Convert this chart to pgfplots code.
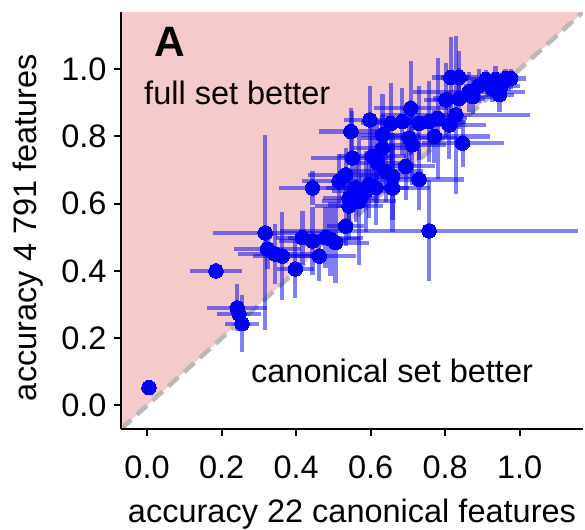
\documentclass[border=0pt]{standalone}
\usepackage{pgfplots}
\pgfplotsset{compat=1.18}
\usepackage{fontspec}
\setmainfont{Liberation Sans}
\definecolor{pinkbg}{RGB}{244,202,202}
\definecolor{ptblue}{RGB}{0,0,245}
\definecolor{diaggray}{RGB}{185,185,185}
\begin{document}
\begin{tikzpicture}
\useasboundingbox (-48.4pt,-40.4pt) rectangle (185.6pt,171.6pt);
\begin{axis}[
  scale only axis, width=184.8pt, height=166.8pt,
  xmin=-0.07, xmax=1.17, ymin=-0.07, ymax=1.17,
  axis x line*=bottom, axis y line*=left,
  axis line style={line width=1.1pt, -},
  axis on top,
  xtick={0,0.2,0.4,0.6,0.8,1.0},
  ytick={0,0.2,0.4,0.6,0.8,1.0},
  /pgf/number format/assume math mode=true,
  /pgf/number format/.cd, fixed, fixed zerofill, precision=1, /pgfplots/.cd,
  tick align=outside, major tick length=2.8pt,
  tick style={black, line width=0.8pt},
  ticklabel style={font=\fontsize{13}{15}\selectfont},
  xticklabel style={anchor=base, inner sep=0pt, yshift=-17pt},
  yticklabel style={anchor=east, inner sep=0pt, xshift=-2.8pt},
  label style={font=\fontsize{13}{15}\selectfont},
  xlabel={accuracy 22 canonical features},
  ylabel={accuracy 4 791 features},
  xlabel style={at={(axis description cs:0.5,-0.2254)}, anchor=base, inner sep=0pt},
  ylabel style={at={(axis description cs:-0.182,0.483)}, anchor=base, inner sep=0pt},
  clip=true,
]
\addplot[fill=pinkbg, draw=none, forget plot] coordinates {(-0.07,-0.07) (-0.07,1.17) (1.17,1.17)} -- cycle;
\addplot[diaggray, line width=1.8pt, dash pattern=on 5.5pt off 3pt, forget plot] coordinates {(-0.07,-0.07) (1.17,1.17)};
\addplot[only marks, mark=*, mark size=2.9pt, mark options={fill=ptblue, draw=ptblue, line width=0pt},
  error bars/.cd, x dir=both, x explicit, y dir=both, y explicit, error mark=none,
  error bar style={line width=1.7pt, color=ptblue, opacity=0.5}]
table[x=x, y=y, x error=ex, y error=ey] {
x y ex ey
0.005 0.053 0.01 0.012
0.185 0.400 0.07 0.025
0.242 0.290 0.08 0.07
0.247 0.272 0.06 0.04
0.255 0.243 0.045 0.085
0.317 0.513 0.14 0.29
0.323 0.465 0.09 0.06
0.344 0.450 0.10 0.09
0.363 0.444 0.08 0.13
0.398 0.406 0.05 0.085
0.417 0.499 0.07 0.08
0.444 0.489 0.09 0.10
0.479 0.499 0.10 0.09
0.492 0.495 0.08 0.11
0.506 0.484 0.09 0.12
0.462 0.444 0.10 0.075
0.533 0.533 0.05 0.06
0.757 0.519 0.40 0.15
0.444 0.647 0.09 0.05
0.515 0.667 0.10 0.08
0.533 0.686 0.10 0.08
0.560 0.647 0.08 0.10
0.587 0.637 0.09 0.12
0.614 0.647 0.09 0.11
0.596 0.657 0.08 0.10
0.659 0.647 0.10 0.13
0.542 0.617 0.07 0.09
0.542 0.593 0.09 0.10
0.569 0.607 0.10 0.19
0.551 0.736 0.11 0.14
0.605 0.741 0.09 0.10
0.618 0.721 0.08 0.12
0.641 0.696 0.10 0.09
0.659 0.681 0.09 0.13
0.694 0.711 0.08 0.10
0.730 0.672 0.12 0.09
0.547 0.815 0.085 0.07
0.632 0.805 0.10 0.12
0.632 0.765 0.08 0.10
0.598 0.849 0.07 0.10
0.654 0.839 0.08 0.12
0.685 0.844 0.09 0.10
0.708 0.884 0.10 0.14
0.730 0.839 0.09 0.11
0.757 0.844 0.10 0.12
0.780 0.854 0.08 0.18
0.771 0.800 0.15 0.08
0.703 0.795 0.13 0.10
0.712 0.775 0.09 0.12
0.811 0.834 0.10 0.10
0.829 0.864 0.20 0.235
0.847 0.780 0.11 0.07
0.815 0.975 0.05 0.12
0.838 0.975 0.05 0.08
0.909 0.969 0.04 0.03
0.935 0.969 0.04 0.04
0.962 0.972 0.03 0.03
0.976 0.972 0.04 0.03
0.865 0.933 0.15 0.06
0.802 0.909 0.06 0.11
0.838 0.913 0.07 0.09
0.874 0.918 0.06 0.05
0.927 0.942 0.05 0.04
0.946 0.924 0.04 0.05
0.950 0.950 0.05 0.03
0.890 0.950 0.04 0.05
};
\node[anchor=base west, inner sep=0pt, font=\fontsize{17}{19}\selectfont\bfseries] at (axis cs:0.018,1.037) {A};
\node[anchor=base west, inner sep=0pt, font=\fontsize{13}{15}\selectfont] at (axis cs:-0.009,0.895) {full set better};
\node[anchor=base west, inner sep=0pt, font=\fontsize{13}{15}\selectfont] at (axis cs:0.278,0.069) {canonical set better};
\end{axis}
\end{tikzpicture}
\end{document}
